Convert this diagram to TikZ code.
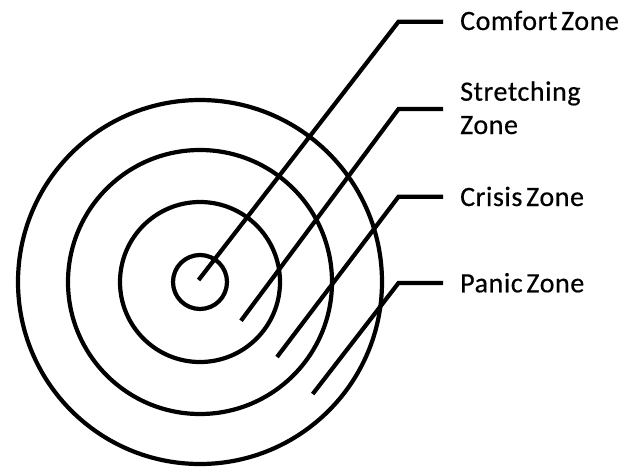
\documentclass[tikz,border=0pt]{standalone}
\usepackage{fontspec}
\setmainfont{Carlito}[LetterSpace=2.0,FakeBold=0.5]
\newcommand{\zonespace}{\spaceskip=3.8pt plus 1pt\relax}
\begin{document}
\begin{tikzpicture}[x=1pt,y=-1pt,
  ring/.style={draw=black,line width=4.2pt},
  leader/.style={draw=black,line width=4.2pt,shorten >=17pt},
  zlabel/.style={inner sep=0pt,anchor=base west,align=left,text width=170pt,
    font=\fontsize{28}{33.3}\selectfont,execute at begin node=\zonespace}]
\path[use as bounding box,fill=white] (0,0) rectangle (621,466);
% rings
\coordinate (ctr) at (200,282);
\draw[ring] (ctr) circle[radius=27];
\draw[ring] (ctr) circle[radius=80];
\draw[ring] (ctr) circle[radius=132];
\draw[ring] (ctr) circle[radius=182];
% labels
\node[zlabel] (l1) at (460,30) {Comfort Zone};
\node[zlabel] (l2) at (460,100.7) {Stretching\\Zone};
\node[zlabel] (l3) at (460,206) {Crisis Zone};
\node[zlabel] (l4) at (460,292.3) {Panic Zone};
% leader ends and elbows
\coordinate (s1) at (198.6,280);
\coordinate (e1) at (398.5,21.7);
\coordinate (s2) at (241,320.7);
\coordinate (e2) at (398.5,109);
\coordinate (s3) at (277,357);
\coordinate (e3) at (398.5,196.7);
\coordinate (s4) at (312.7,394);
\coordinate (e4) at (398.5,283);
\draw[leader] (s1) -- (e1) -- (e1 -| l1.west);
\draw[leader] (s2) -- (e2) -- (e2 -| l2.west);
\draw[leader] (s3) -- (e3) -- (e3 -| l3.west);
\draw[leader] (s4) -- (e4) -- (e4 -| l4.west);
\end{tikzpicture}
\end{document}
